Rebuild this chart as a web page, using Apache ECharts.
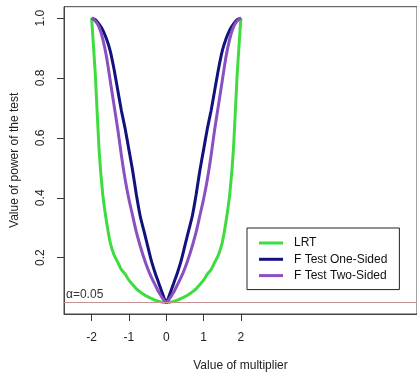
<!DOCTYPE html>
<html>
<head>
<meta charset="utf-8">
<script src="https://cdn.jsdelivr.net/npm/echarts@6/dist/echarts.min.js"></script>
<style>
  html, body { margin: 0; padding: 0; background: #fff; }
  #chart { width: 417px; height: 377px; }
</style>
</head>
<body>
<div id="chart"></div>
<script>
// multiplier values
const multipliers = [-2, -1.9, -1.8, -1.7, -1.6, -1.5, -1.4, -1.3, -1.2, -1.1, -1,
  -0.9, -0.8, -0.7, -0.6, -0.5, -0.4, -0.3, -0.2, -0.1, 0,
  0.1, 0.2, 0.3, 0.4, 0.5, 0.6, 0.7, 0.8, 0.9, 1,
  1.1, 1.2, 1.3, 1.4, 1.5, 1.6, 1.7, 1.8, 1.9, 2];

// power curves
const lrt = [1.00, 0.81, 0.56, 0.41, 0.32, 0.25, 0.21, 0.185, 0.16, 0.145, 0.125,
  0.11, 0.096, 0.086, 0.077, 0.07, 0.064, 0.058, 0.054, 0.051, 0.05,
  0.051, 0.054, 0.058, 0.064, 0.07, 0.077, 0.086, 0.096, 0.11, 0.125,
  0.145, 0.16, 0.185, 0.21, 0.25, 0.32, 0.41, 0.56, 0.81, 1.00];
const fOneSided = [1.00, 0.995, 0.98, 0.96, 0.93, 0.89, 0.83, 0.76, 0.69, 0.63, 0.56,
  0.49, 0.41, 0.34, 0.29, 0.24, 0.19, 0.15, 0.115, 0.08, 0.05,
  0.08, 0.115, 0.15, 0.19, 0.24, 0.29, 0.34, 0.41, 0.49, 0.56,
  0.63, 0.69, 0.76, 0.83, 0.89, 0.93, 0.96, 0.98, 0.995, 1.00];
const fTwoSided = [1.00, 0.99, 0.97, 0.93, 0.87, 0.79, 0.71, 0.63, 0.54, 0.46, 0.395,
  0.34, 0.285, 0.24, 0.20, 0.165, 0.135, 0.11, 0.085, 0.065, 0.05,
  0.065, 0.085, 0.11, 0.135, 0.165, 0.20, 0.24, 0.285, 0.34, 0.395,
  0.46, 0.54, 0.63, 0.71, 0.79, 0.87, 0.93, 0.97, 0.99, 1.00];

const xTicks = [-2, -1, 0, 1, 2];
const yTicks = [0.2, 0.4, 0.6, 0.8, 1.0];
const alpha = 0.05;

const pairs = (ys) => multipliers.map((x, i) => [x, ys[i]]);

const chart = echarts.init(document.getElementById('chart'), null, { renderer: 'canvas' });

const font = 'Liberation Sans, Arial, sans-serif';

chart.setOption({
  animation: false,
  textStyle: { fontFamily: font },
  grid: {
    left: 64, top: 6.7, right: -1, bottom: 62,
    show: true, borderColor: '#444', borderWidth: 1
  },
  legend: {
    orient: 'vertical',
    left: 247, top: 228,
    padding: [8, 12, 7, 12],
    borderColor: '#222', borderWidth: 1,
    itemWidth: 24, itemHeight: 3, itemGap: 2.3,
    icon: 'rect',
    textStyle: { fontSize: 12, color: '#111', fontFamily: font, lineHeight: 14, padding: [0, 0, 0, 6] },
    data: ['LRT', 'F Test One-Sided', 'F Test Two-Sided']
  },
  xAxis: {
    type: 'value', min: -2.74, max: 6.72,
    splitLine: { show: false },
    axisLine: { show: true, onZero: false, lineStyle: { color: '#444', width: 1 } },
    axisTick: { show: true, length: 7, customValues: xTicks, lineStyle: { color: '#333', width: 1 } },
    axisLabel: { customValues: xTicks, margin: 18, fontSize: 12, color: '#222', fontFamily: font },
    name: 'Value of multiplier', nameLocation: 'middle', nameGap: 46,
    nameTextStyle: { fontSize: 12, color: '#222', fontFamily: font }
  },
  yAxis: {
    type: 'value', min: 0.012, max: 1.038,
    splitLine: { show: false },
    axisLine: { show: true, onZero: false, lineStyle: { color: '#444', width: 1 } },
    axisTick: { show: true, length: 7, customValues: yTicks, lineStyle: { color: '#333', width: 1 } },
    axisLabel: {
      customValues: yTicks, rotate: 90, margin: 17, fontSize: 12, color: '#222', fontFamily: font,
      formatter: (v) => v.toFixed(1)
    },
    name: 'Value of power of the test', nameLocation: 'middle', nameGap: 43,
    nameTextStyle: { fontSize: 12, color: '#222', fontFamily: font }
  },
  series: [
    {
      name: 'LRT', type: 'line', data: pairs(lrt), showSymbol: false, smooth: 0.2,
      lineStyle: { width: 3, color: '#3fdc3f' }, itemStyle: { color: '#3fdc3f' },
      markLine: {
        silent: true, symbol: 'none',
        lineStyle: { color: '#c89292', width: 1, type: 'solid' },
        label: { show: true, position: 'insideStartTop', formatter: 'α=0.05', color: '#333', fontSize: 12, distance: [2, 2], fontFamily: font },
        data: [{ yAxis: alpha }]
      }
    },
    {
      name: 'F Test One-Sided', type: 'line', data: pairs(fOneSided), showSymbol: false, smooth: 0.2,
      lineStyle: { width: 3, color: '#12127e' }, itemStyle: { color: '#12127e' }
    },
    {
      name: 'F Test Two-Sided', type: 'line', data: pairs(fTwoSided), showSymbol: false, smooth: 0.2,
      lineStyle: { width: 3, color: '#8a4fc0' }, itemStyle: { color: '#8a4fc0' }
    }
  ]
});
</script>
</body>
</html>
